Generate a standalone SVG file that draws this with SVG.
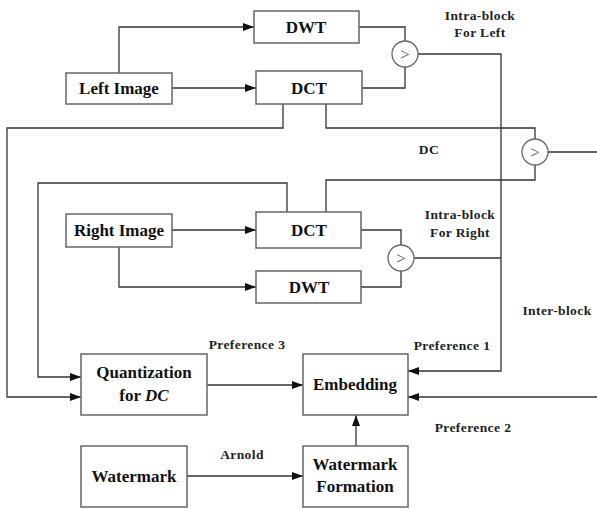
<svg xmlns="http://www.w3.org/2000/svg" width="597" height="509" viewBox="0 0 597 509">
<defs>
<style>
.box{fill:#fff;stroke:#666;stroke-width:1.5}
.cmp{fill:#fff;stroke:#666;stroke-width:1.3}
.ln{fill:none;stroke:#333;stroke-width:1.3}
.bt{font-family:"Liberation Serif",serif;font-weight:bold;font-size:17px;fill:#111;text-anchor:middle}
.lb{font-family:"Liberation Serif",serif;font-weight:bold;font-size:13.5px;letter-spacing:0.4px;fill:#222;text-anchor:middle}
.gt{font-family:"Liberation Serif",serif;font-size:17px;fill:#555;text-anchor:middle}
</style>
<marker id="ar" markerWidth="12" markerHeight="10" refX="11" refY="5" orient="auto" markerUnits="userSpaceOnUse">
<path d="M0,1 L11,5 L0,9 Z" fill="#111"/>
</marker>
</defs>
<rect width="597" height="509" fill="#fff"/>
<g id="connectors">
<path class="ln" d="M119,73 V27 H254" marker-end="url(#ar)"/>
<path class="ln" d="M172,88 H256" marker-end="url(#ar)"/>
<path class="ln" d="M359,27 H405 V41"/>
<path class="ln" d="M362,88 H405 V67"/>
<path class="ln" d="M418,54 H501 V371 H408" marker-end="url(#ar)"/>
<path class="ln" d="M283,104 V128 H7 V397 H81" marker-end="url(#ar)"/>
<path class="ln" d="M326,104 V128 H535 V139"/>
<path class="ln" d="M548,152 H597"/>
<path class="ln" d="M287,212 V183 H38 V377 H81" marker-end="url(#ar)"/>
<path class="ln" d="M326,212 V180 H535 V165"/>
<path class="ln" d="M172,230 H256" marker-end="url(#ar)"/>
<path class="ln" d="M119,247 V287 H256" marker-end="url(#ar)"/>
<path class="ln" d="M361,230 H401 V245"/>
<path class="ln" d="M361,287 H401 V271"/>
<path class="ln" d="M414,258 H501"/>
<path class="ln" d="M207,385 H303" marker-end="url(#ar)"/>
<path class="ln" d="M597,397 H408" marker-end="url(#ar)"/>
<path class="ln" d="M187,476 H303" marker-end="url(#ar)"/>
<path class="ln" d="M356,446 V415" marker-end="url(#ar)"/>
</g>
<g id="left-image"><rect class="box" x="66" y="73" width="106" height="31"/><text class="bt" x="119" y="94">Left Image</text></g>
<g id="dwt-left"><rect class="box" x="254" y="11" width="105" height="32"/><text class="bt" x="306" y="33">DWT</text></g>
<g id="dct-left"><rect class="box" x="256" y="71" width="106" height="33"/><text class="bt" x="309" y="94">DCT</text></g>
<g id="cmp-left"><circle class="cmp" cx="405" cy="54" r="13"/><text class="gt" x="405" y="60">&gt;</text></g>
<g id="cmp-dc"><circle class="cmp" cx="535" cy="152" r="13"/><text class="gt" x="535" y="158">&gt;</text></g>
<g id="right-image"><rect class="box" x="66" y="214" width="106" height="33"/><text class="bt" x="119" y="236">Right Image</text></g>
<g id="dct-right"><rect class="box" x="256" y="212" width="105" height="36"/><text class="bt" x="309" y="236">DCT</text></g>
<g id="dwt-right"><rect class="box" x="256" y="271" width="105" height="32"/><text class="bt" x="309" y="293">DWT</text></g>
<g id="cmp-right"><circle class="cmp" cx="401" cy="258" r="13"/><text class="gt" x="401" y="264">&gt;</text></g>
<g id="quantization"><rect class="box" x="81" y="354" width="126" height="61"/><text class="bt" x="144" y="378">Quantization</text><text class="bt" x="144" y="401">for <tspan font-style="italic">DC</tspan></text></g>
<g id="embedding"><rect class="box" x="303" y="354" width="105" height="61"/><text class="bt" x="355" y="390">Embedding</text></g>
<g id="watermark"><rect class="box" x="81" y="446" width="106" height="61"/><text class="bt" x="134" y="482">Watermark</text></g>
<g id="watermark-formation"><rect class="box" x="303" y="446" width="105" height="61"/><text class="bt" x="355" y="470">Watermark</text><text class="bt" x="355" y="492">Formation</text></g>
<g id="labels">
<text class="lb" x="480" y="20">Intra-block</text>
<text class="lb" x="480" y="37">For Left</text>
<text class="lb" x="429" y="154">DC</text>
<text class="lb" x="460" y="219">Intra-block</text>
<text class="lb" x="460" y="237">For Right</text>
<text class="lb" x="557" y="315">Inter-block</text>
<text class="lb" x="247" y="349">Preference 3</text>
<text class="lb" x="452" y="350">Preference 1</text>
<text class="lb" x="473" y="432">Preference 2</text>
<text class="lb" x="242" y="459">Arnold</text>
</g>
</svg>
